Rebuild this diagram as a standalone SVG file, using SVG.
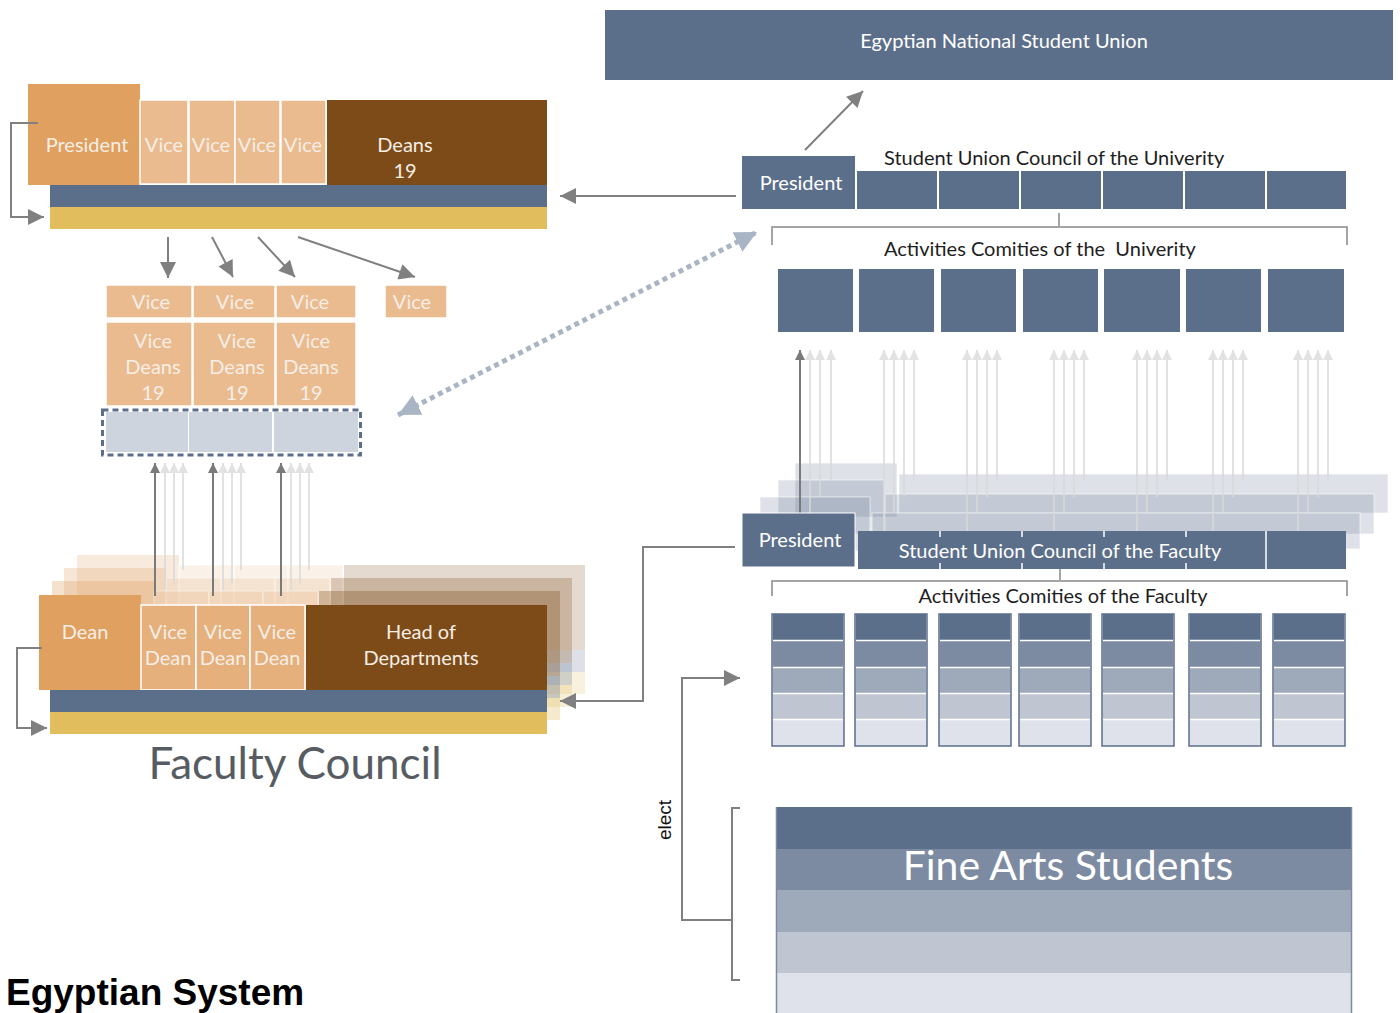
<svg xmlns="http://www.w3.org/2000/svg" width="1400" height="1013" viewBox="0 0 1400 1013">
<defs>
<style>
text{font-family:Lato,"Open Sans","Liberation Sans",sans-serif}
.w{fill:#fff}
.wt{fill:#f6eee6}
.dk{fill:#1e1e1e}
.blue{fill:#5c6f8a}
.or{fill:#e0a060}
.lor{fill:#eabb8e;stroke:#fff;stroke-width:1.5}
.br{fill:#7d4b17}
.yel{fill:#e1bd5e}
.gl{fill:none;stroke:#808080;stroke-width:2}
.lg{fill:none;stroke:#d8d8d8;stroke-width:1.5}
.t20{font-size:20px}
.t19{font-size:19px}
</style>
<marker id="ag2" viewBox="0 0 10 10" refX="10" refY="5" markerWidth="26" markerHeight="16" orient="auto" markerUnits="userSpaceOnUse">
<path d="M0,0 L10,5 L0,10 z" fill="#808080"/>
</marker>
<marker id="al" viewBox="0 0 10 10" refX="10" refY="5" markerWidth="16" markerHeight="10" orient="auto" markerUnits="userSpaceOnUse">
<path d="M0,0 L10,5 L0,10 z" fill="#e2e2e2"/>
</marker>
<marker id="ad" viewBox="0 0 10 10" refX="10" refY="5" markerWidth="16" markerHeight="10" orient="auto" markerUnits="userSpaceOnUse">
<path d="M0,0 L10,5 L0,10 z" fill="#7a7a7a"/>
</marker>
<marker id="ab" viewBox="0 0 10 10" refX="10" refY="5" markerWidth="22" markerHeight="22" orient="auto" markerUnits="userSpaceOnUse">
<path d="M0,0 L10,5 L0,10 z" fill="#a9b4c5"/>
</marker>
<marker id="abs" viewBox="0 0 10 10" refX="10" refY="5" markerWidth="22" markerHeight="22" orient="auto-start-reverse" markerUnits="userSpaceOnUse">
<path d="M0,0 L10,5 L0,10 z" fill="#a9b4c5"/>
</marker>
<g id="facLayer">
<rect x="39" y="595" width="102" height="95" fill="#e0a060"/>
<rect x="141" y="605" width="55" height="85" fill="#eabb8e" stroke="#fff"/>
<rect x="196" y="605" width="54" height="85" fill="#eabb8e" stroke="#fff"/>
<rect x="250" y="605" width="55" height="85" fill="#eabb8e" stroke="#fff"/>
<rect x="306" y="605" width="241" height="85" fill="#7d4b17"/>
<rect x="50" y="690" width="497" height="22" fill="#5c6f8a"/>
<rect x="50" y="712" width="497" height="22" fill="#e1bd5e"/>
</g>
</defs>

<!-- Egyptian National Student Union -->
<g id="national">
<rect x="605" y="10" width="788" height="70" class="blue"/>
<text x="1004" y="48" text-anchor="middle" class="w t20">Egyptian National Student Union</text>
</g>

<!-- University council (right) -->
<g id="uni-council">
<text x="884" y="165" class="dk t20">Student Union Council of the Univerity</text>
<rect x="742" y="156" width="113" height="53" class="blue"/>
<text x="801" y="190" text-anchor="middle" class="w t20">President</text>
<rect x="857" y="171" width="80" height="38" class="blue"/>
<rect x="939" y="171" width="80" height="38" class="blue"/>
<rect x="1021" y="171" width="80" height="38" class="blue"/>
<rect x="1103" y="171" width="80" height="38" class="blue"/>
<rect x="1185" y="171" width="80" height="38" class="blue"/>
<rect x="1267" y="171" width="79" height="38" class="blue"/>
</g>

<g id="uni-activities">
<path d="M1059,213 V226 M772,245 V227 H1347 V245" fill="none" stroke="#888" stroke-width="1.5"/>
<text x="884" y="256" class="dk t20" xml:space="preserve">Activities Comities of the  Univerity</text>
<rect x="778" y="269" width="75" height="63" class="blue"/>
<rect x="859" y="269" width="75" height="63" class="blue"/>
<rect x="941" y="269" width="75" height="63" class="blue"/>
<rect x="1023" y="269" width="75" height="63" class="blue"/>
<rect x="1104" y="269" width="76" height="63" class="blue"/>
<rect x="1186" y="269" width="75" height="63" class="blue"/>
<rect x="1268" y="269" width="76" height="63" class="blue"/>
</g>

<!-- Faculty student union layers -->
<g id="fac-union-layers" fill="#5c6f8a" fill-opacity="0.2" stroke="#fff" stroke-opacity="0.6" stroke-width="1">
<rect x="795" y="463" width="102" height="54"/>
<rect x="899" y="474" width="489" height="39"/>
<rect x="778" y="480" width="106" height="54"/>
<rect x="885" y="494" width="489" height="40"/>
<rect x="760" y="497" width="110" height="54"/>
<rect x="872" y="513" width="488" height="36"/>
</g>

<!-- Light arrows up to University activities -->
<g id="connectors-up-right">
<g class="lg" marker-end="url(#al)">
<path d="M810,513 V350"/><path d="M820,497 V350"/><path d="M831,480 V350"/>
<path d="M884,531 V350"/><path d="M894,513 V350"/><path d="M904,497 V350"/><path d="M914,480 V350"/>
<path d="M967,531 V350"/><path d="M977,513 V350"/><path d="M987,497 V350"/><path d="M997,480 V350"/>
<path d="M1054,531 V350"/><path d="M1064,513 V350"/><path d="M1074,497 V350"/><path d="M1084,480 V350"/>
<path d="M1137,531 V350"/><path d="M1147,513 V350"/><path d="M1157,497 V350"/><path d="M1167,480 V350"/>
<path d="M1213,531 V350"/><path d="M1223,513 V350"/><path d="M1233,497 V350"/><path d="M1243,480 V350"/>
<path d="M1298,531 V350"/><path d="M1308,513 V350"/><path d="M1318,497 V350"/><path d="M1328,480 V350"/>
</g>
<path d="M800,513 V350" fill="none" stroke="#7a7a7a" stroke-width="2" marker-end="url(#ad)"/>
</g>

<g id="fac-union">
<rect x="742" y="513" width="113" height="54" class="blue" stroke="#fff" stroke-width="1"/>
<text x="800" y="547" text-anchor="middle" class="w t20">President</text>
<rect x="858" y="531" width="488" height="38" class="blue"/>
<path d="M940,531 V537 M940,563 V569 M1022,531 V537 M1022,563 V569 M1104,531 V537 M1104,563 V569 M1186,531 V537 M1186,563 V569 M1266,531 V569" stroke="#fff" stroke-width="1.5"/>
<text x="1060" y="558" text-anchor="middle" class="w t20">Student Union Council of the Faculty</text>
</g>

<g id="fac-activities">
<path d="M1060,569 V580 M772,596 V581 H1347 V596" fill="none" stroke="#888" stroke-width="1.5"/>
<text x="1063" y="603" text-anchor="middle" class="dk t20">Activities Comities of the Faculty</text>
<g id="col" stroke="#fff" stroke-width="1.5">
<rect x="772" y="614" width="72" height="132" fill="#dfe2ea" stroke="#5c6f8a"/>
<rect x="773" y="614" width="70" height="26" fill="#5c6f8a" stroke="none"/>
<rect x="773" y="641" width="70" height="26" fill="#7d8ba2" stroke="none"/>
<rect x="773" y="668" width="70" height="25" fill="#9eaaba" stroke="none"/>
<rect x="773" y="694" width="70" height="25" fill="#bfc6d2" stroke="none"/>
<path d="M773,640.5 H843 M773,667.5 H843 M773,693.5 H843 M773,719.5 H843"/>
</g>
<use href="#col" x="83"/>
<use href="#col" x="167"/>
<use href="#col" x="247"/>
<use href="#col" x="330"/>
<use href="#col" x="417"/>
<use href="#col" x="501"/>
</g>

<!-- Fine Arts Students -->
<g id="students">
<rect x="776" y="807" width="576" height="206" fill="#dfe2ea"/>
<rect x="776" y="807" width="576" height="42" fill="#5c6f8a"/>
<rect x="776" y="849" width="576" height="41" fill="#7d8ba2"/>
<rect x="776" y="890" width="576" height="42" fill="#9eaaba"/>
<rect x="776" y="932" width="576" height="41" fill="#bfc6d2"/>
<path d="M776.5,807 V1013 M1351.5,807 V1013" stroke="#7d8ba2" stroke-width="1.5"/>
<text x="1068" y="880" text-anchor="middle" class="w" style="font-size:41px">Fine Arts Students</text>
</g>

<!-- Left: University council -->
<g id="uni-board">
<rect x="28" y="84" width="112" height="101" class="or"/>
<rect x="140" y="100" width="48" height="84" class="lor"/>
<rect x="189" y="100" width="46" height="84" class="lor"/>
<rect x="235" y="100" width="45" height="84" class="lor"/>
<rect x="281" y="100" width="45" height="84" class="lor"/>
<rect x="327" y="100" width="220" height="85" class="br"/>
<rect x="50" y="185" width="497" height="22" class="blue"/>
<rect x="50" y="207" width="497" height="22" class="yel"/>
<text x="87" y="152" text-anchor="middle" class="wt t20">President</text>
<text x="164" y="152" text-anchor="middle" class="wt t20">Vice</text>
<text x="211" y="152" text-anchor="middle" class="wt t20">Vice</text>
<text x="257" y="152" text-anchor="middle" class="wt t20">Vice</text>
<text x="303" y="152" text-anchor="middle" class="wt t20">Vice</text>
<text x="405" y="152" text-anchor="middle" class="wt t20">Deans</text>
<text x="405" y="178" text-anchor="middle" class="wt t20">19</text>
</g>

<!-- Middle left vice nodes -->
<g id="vices">
<rect x="106" y="285" width="86" height="33" class="lor"/>
<rect x="193" y="285" width="82" height="33" class="lor"/>
<rect x="276" y="285" width="80" height="33" class="lor"/>
<rect x="385" y="285" width="62" height="33" class="lor"/>
<text x="151" y="309" text-anchor="middle" class="wt t20">Vice</text>
<text x="235" y="309" text-anchor="middle" class="wt t20">Vice</text>
<text x="310" y="309" text-anchor="middle" class="wt t20">Vice</text>
<text x="412" y="309" text-anchor="middle" class="wt t20">Vice</text>
</g>
<g id="vice-deans">
<rect x="106" y="322" width="86" height="84" class="lor"/>
<rect x="193" y="322" width="82" height="84" class="lor"/>
<rect x="276" y="322" width="80" height="84" class="lor"/>
<g class="wt t20" text-anchor="middle">
<text x="153" y="348">Vice</text><text x="153" y="374">Deans</text><text x="153" y="400">19</text>
<text x="237" y="348">Vice</text><text x="237" y="374">Deans</text><text x="237" y="400">19</text>
<text x="311" y="348">Vice</text><text x="311" y="374">Deans</text><text x="311" y="400">19</text>
</g>
</g>
<g id="student-reps">
<rect x="106" y="412" width="82" height="40" fill="#cdd4dd"/>
<rect x="189" y="412" width="83" height="40" fill="#cdd4dd"/>
<rect x="274" y="412" width="84" height="40" fill="#cdd4dd"/>
<rect x="102.5" y="410" width="258" height="45" fill="none" stroke="#5c6f8a" stroke-width="3" stroke-dasharray="6 4"/>
</g>

<!-- Faculty council layers -->
<g id="faculty-council">
<use href="#facLayer" x="38" y="-40" opacity="0.2"/>
<use href="#facLayer" x="25" y="-27" opacity="0.25"/>
<use href="#facLayer" x="13" y="-14" opacity="0.3"/>
<rect x="39" y="595" width="102" height="95" class="or"/>
<rect x="141" y="605" width="55" height="85" fill="#e5b07c" stroke="#fff" stroke-width="1.5"/>
<rect x="196" y="605" width="54" height="85" fill="#e5b07c" stroke="#fff" stroke-width="1.5"/>
<rect x="250" y="605" width="55" height="85" fill="#e5b07c" stroke="#fff" stroke-width="1.5"/>
<rect x="306" y="605" width="241" height="85" class="br"/>
<rect x="50" y="690" width="497" height="22" class="blue"/>
<rect x="50" y="712" width="497" height="22" class="yel"/>
<g class="wt t20" text-anchor="middle">
<text x="85" y="639">Dean</text>
<text x="168" y="639">Vice</text><text x="168" y="665">Dean</text>
<text x="223" y="639">Vice</text><text x="223" y="665">Dean</text>
<text x="277" y="639">Vice</text><text x="277" y="665">Dean</text>
<text x="421" y="639">Head of</text><text x="421" y="665">Departments</text>
</g>
<text x="295" y="779" text-anchor="middle" fill="#575c63" style="font-size:44px">Faculty Council</text>
</g>

<!-- connectors -->
<g id="connectors">
<path class="gl" d="M38,123 H11 V217 H44" marker-end="url(#ag2)"/>
<path class="gl" d="M42,648 H17 V728 H47" marker-end="url(#ag2)"/>
<path class="gl" d="M168,237 V278" marker-end="url(#ag2)"/>
<path class="gl" d="M212,237 L233,277" marker-end="url(#ag2)"/>
<path class="gl" d="M258,237 L295,277" marker-end="url(#ag2)"/>
<path class="gl" d="M298,237 L415,277" marker-end="url(#ag2)"/>
<path class="gl" d="M736,196 H560" marker-end="url(#ag2)"/>
<path class="gl" d="M805,150 L863,91" marker-end="url(#ag2)"/>
<path class="gl" d="M735,547 H643 V701 H560" marker-end="url(#ag2)"/>
<path class="gl" d="M731,920 H682 V678 H740" marker-end="url(#ag2)"/>
<path class="gl" d="M740,808 H732 V980 H740"/>
<path d="M398,415 L757,232" fill="none" stroke="#a9b4c5" stroke-width="5" stroke-dasharray="5 4" marker-end="url(#ab)" marker-start="url(#abs)"/>
<g class="lg" marker-end="url(#al)">
<path d="M165,590 V463"/><path d="M174,584 V463"/><path d="M183,570 V463"/>
<path d="M223,590 V463"/><path d="M232,584 V463"/><path d="M241,570 V463"/>
<path d="M291,590 V463"/><path d="M300,584 V463"/><path d="M309,570 V463"/>
</g>
<g fill="none" stroke="#7a7a7a" stroke-width="2" marker-end="url(#ad)">
<path d="M155,596 V463"/><path d="M213,596 V463"/><path d="M281,596 V463"/>
</g>
<text transform="translate(671,820) rotate(-90)" text-anchor="middle" style="font-family:'Liberation Sans',Arial,sans-serif;font-size:19px" fill="#111">elect</text>
</g>

<text x="6" y="1005" style="font-family:'Liberation Sans',Arial,sans-serif;font-size:37px;font-weight:bold" fill="#000">Egyptian System</text>
</svg>
